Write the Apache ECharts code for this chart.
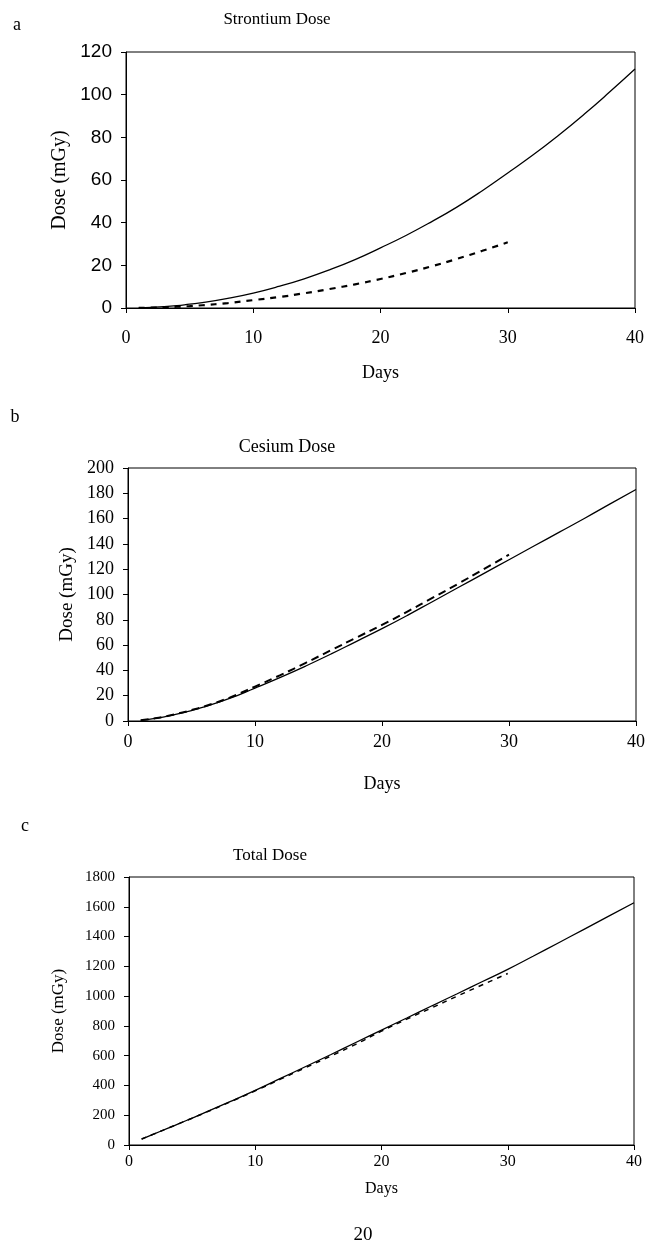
<!DOCTYPE html>
<html>
<head>
<meta charset="utf-8">
<script src="https://cdn.jsdelivr.net/npm/echarts@6/dist/echarts.min.js"></script>
<style>
  html, body { margin: 0; padding: 0; background: #fff; }
  #main { width: 649px; height: 1253px; }
</style>
</head>
<body>
<div id="main"></div>
<script>
// days
const daysLong = [1, 2, 3, 4, 5, 6, 8, 10, 12, 14, 16, 18, 20, 22, 24, 26, 28, 30, 32, 34, 36, 38, 40];
const daysShort = [1, 2, 3, 4, 5, 6, 8, 10, 12, 14, 16, 18, 20, 22, 24, 26, 28, 30];

// a: Strontium dose (mGy)
const srSolid = [0.1, 0.3, 0.6, 1.1, 1.8, 2.5, 4.5, 7.0, 10.1, 13.7, 17.9, 22.7, 28.2, 34.0, 40.4, 47.3, 55.0, 63.3, 71.8, 81.0, 90.8, 101.2, 112];
const srDashed = [0.05, 0.15, 0.3, 0.6, 0.9, 1.3, 2.3, 3.7, 5.1, 6.9, 8.9, 11.1, 13.6, 16.4, 19.5, 23.0, 26.8, 30.8];

// b: Cesium dose (mGy)
const csSolid = [0.5, 1.8, 3.6, 5.8, 8.3, 11.1, 17.8, 26.0, 34.5, 43.5, 53.0, 63.0, 73.0, 83.5, 94.5, 105.5, 116.5, 127.5, 138.5, 149.5, 160.5, 171.8, 183];
const csDashed = [0.5, 1.9, 3.7, 6.0, 8.6, 11.5, 18.5, 27.2, 36.3, 46.0, 56.0, 66.0, 76.0, 86.5, 97.5, 108.5, 120.0, 131.5];

// c: Total dose (mGy)
const totSolid = [40, 75, 110, 145, 181, 217, 291, 367, 447, 527, 608, 690, 772, 853, 935, 1016, 1098, 1180, 1268, 1357, 1447, 1537, 1627];
const totDashed = [40, 75, 110, 145, 180, 216, 289, 364, 442, 520, 598, 678, 765, 845, 922, 1000, 1076, 1152];

const xTicks = [0, 10, 20, 30, 40];

const serif = 'Liberation Serif';
const sans = 'Liberation Sans';

function pairs(xs, ys) {
    return xs.map(function (x, i) { return [x, ys[i]]; });
}

function xAxisFor(idx, margin, gap, size) {
    return {
        type: 'value', gridIndex: idx, min: xTicks[0], max: xTicks[xTicks.length - 1], interval: 10,
        name: 'Days', nameLocation: 'middle', nameGap: gap,
        nameTextStyle: {fontFamily: serif, fontSize: size, color: '#000'},
        axisLine: {onZero: false, lineStyle: {color: '#000', width: 1}},
        axisTick: {show: true, length: 5, inside: false, lineStyle: {color: '#000'}},
        axisLabel: {margin: margin, fontFamily: serif, fontSize: size, color: '#000'},
        splitLine: {show: false}
    };
}

function yAxisFor(idx, max, interval, font, size, gap, nameSize) {
    return {
        type: 'value', gridIndex: idx, min: 0, max: max, interval: interval,
        name: 'Dose (mGy)', nameLocation: 'middle', nameGap: gap,
        nameTextStyle: {fontFamily: serif, fontSize: nameSize, color: '#000'},
        axisLine: {show: true, lineStyle: {color: '#000', width: 1}},
        axisTick: {show: true, length: 5, inside: false, lineStyle: {color: '#000'}},
        axisLabel: {
            margin: 14, fontFamily: font, fontSize: size, color: '#000',
            formatter: function (v) { return String(v); }
        },
        splitLine: {show: false}
    };
}

function lineSeries(idx, xs, ys, dash, width) {
    return {
        type: 'line', xAxisIndex: idx, yAxisIndex: idx,
        data: pairs(xs, ys), smooth: true, showSymbol: false, silent: true,
        lineStyle: {color: '#000', width: width, type: dash || 'solid'}
    };
}

function label(text, x, y, size, family) {
    return {
        type: 'text', x: x, y: y,
        style: {text: text, fontFamily: family || serif, fontSize: size, fill: '#000', align: 'center', verticalAlign: 'middle'}
    };
}

const myChart = echarts.init(document.getElementById('main'));
myChart.setOption({
    animation: false,
    backgroundColor: '#fff',
    grid: [
        {left: 126, right: 14, top: 52, height: 256, show: true, borderColor: '#000', borderWidth: 1, containLabel: false},
        {left: 128, right: 13, top: 468, height: 253, show: true, borderColor: '#000', borderWidth: 1, containLabel: false},
        {left: 129, right: 15, top: 877, height: 268, show: true, borderColor: '#000', borderWidth: 1, containLabel: false}
    ],
    xAxis: [
        xAxisFor(0, 21, 56, 18),
        xAxisFor(1, 12, 54, 18),
        xAxisFor(2, 9, 36, 16)
    ],
    yAxis: [
        yAxisFor(0, 120, 20, sans, 19, 56, 20),
        yAxisFor(1, 200, 20, serif, 18, 50, 19),
        yAxisFor(2, 1800, 200, serif, 15, 62, 17)
    ],
    series: [
        lineSeries(0, daysLong, srSolid, null, 1.3),
        lineSeries(0, daysShort, srDashed, [6, 6], 2.2),
        lineSeries(1, daysLong, csSolid, null, 1.3),
        lineSeries(1, daysShort, csDashed, [8, 5], 2),
        lineSeries(2, daysLong, totSolid, null, 1.3),
        lineSeries(2, daysShort, totDashed, [5, 5], 1.5)
    ],
    graphic: [
        label('a', 17, 25, 18),
        label('Strontium Dose', 277, 20, 17),
        label('b', 15, 417, 18),
        label('Cesium Dose', 287, 447, 18),
        label('c', 25, 826, 18),
        label('Total Dose', 270, 856, 17),
        label('20', 363, 1235, 19)
    ]
});
</script>
</body>
</html>
